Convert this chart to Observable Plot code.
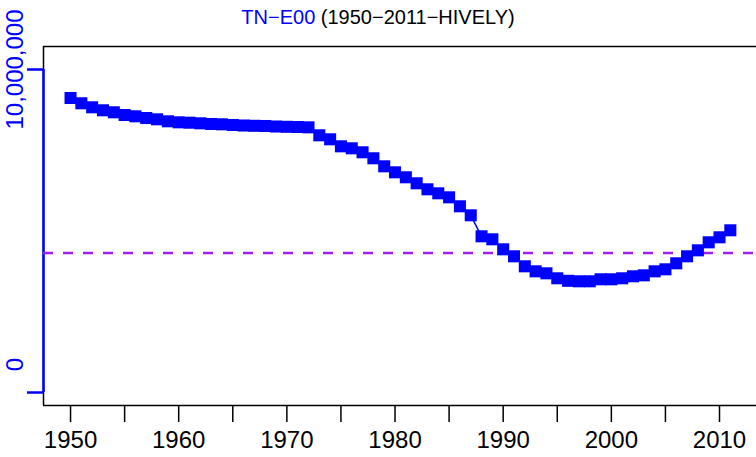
<!DOCTYPE html>
<html><head><meta charset="utf-8">
<script src="https://cdn.jsdelivr.net/npm/d3@7"></script>
<script src="https://cdn.jsdelivr.net/npm/@observablehq/plot@0.6"></script>
<style>
body{margin:0;background:#fff;}
#wrap{position:relative;width:756px;height:457px;}
#title{position:absolute;left:0;top:6px;width:756px;text-align:center;font:20px "Liberation Sans",Arial,sans-serif;color:#000;white-space:nowrap;}
</style></head><body>
<div id="wrap"><div id="title"><span style="color:#0000ff">TN−E00</span> (1950−2011−HIVELY)</div></div>
<script>
const years = [1950,1951,1952,1953,1954,1955,1956,1957,1958,1959,
  1960,1961,1962,1963,1964,1965,1966,1967,1968,1969,
  1970,1971,1972,1973,1974,1975,1976,1977,1978,1979,
  1980,1981,1982,1983,1984,1985,1986,1987,1988,1989,
  1990,1991,1992,1993,1994,1995,1996,1997,1998,1999,
  2000,2001,2002,2003,2004,2005,2006,2007,2008,2009,
  2010,2011];
const values = [9118000,8954000,8830000,8737000,8675000,8591000,8551000,8498000,8458000,8396000,
  8365000,8353000,8334000,8313000,8303000,8282000,8266000,8257000,8251000,8235000,
  8226000,8220000,8210000,7963000,7839000,7622000,7560000,7437000,7251000,7003000,
  6817000,6663000,6477000,6291000,6167000,6043000,5765000,5486000,4836000,4743000,
  4433000,4217000,3907000,3752000,3690000,3536000,3458000,3443000,3443000,3505000,
  3505000,3536000,3598000,3628000,3752000,3814000,4000000,4217000,4402000,4650000,
  4805000,5022000];
const threshold = 4319000;
const xTicks = [1950,1955,1960,1965,1970,1975,1980,1985,1990,1995,2000,2005,2010];
const xLabels = ["1950","","1960","","1970","","1980","","1990","","2000","","2010"];
const yTicks = [0, 10000000];
const yLabels = ["0", "10,000,000"];

const data = years.map((y, i) => ({year: y, value: values[i]}));
const xDomain = [1947.5, 2013.42];
const yDomain = [-402000, 10712000];
const blue = "#0000ff";
const font = "Liberation Sans, Arial, sans-serif";

const chart = Plot.plot({
  width: 756, height: 457,
  marginLeft: 43, marginRight: 0, marginTop: 46, marginBottom: 52,
  style: {fontFamily: font, background: "white", overflow: "visible"},
  x: {domain: xDomain, label: null},
  y: {domain: yDomain, label: null},
  marks: [
    Plot.ruleY([yDomain[1], yDomain[0]], {stroke: "black", strokeWidth: 1.5}),
    Plot.ruleX([xDomain[0]], {stroke: "black", strokeWidth: 1.5}),
    Plot.ruleX([xDomain[0]], {y1: yTicks[0], y2: yTicks[1], stroke: blue, strokeWidth: 2.5}),
    Plot.axisX({ticks: xTicks, tickSize: 17, tickPadding: 8, fontSize: 24, stroke: "black", strokeWidth: 1.5,
      tickFormat: d => xLabels[xTicks.indexOf(d)], label: null}),
    Plot.axisY({ticks: yTicks, tickSize: 16, tickFormat: () => "", color: blue, strokeWidth: 2.5, label: null}),
    Plot.axisY({ticks: [yTicks[1]], tickSize: 0, tickPadding: 21, tickRotate: -90, fontSize: 24, color: blue,
      tickFormat: () => yLabels[1], label: null}),
    Plot.axisY({ticks: [yTicks[0]], tickSize: 0, tickPadding: 21, tickRotate: -90, fontSize: 24, color: blue,
      tickFormat: () => yLabels[0], dy: -28, label: null}),
    Plot.ruleY([threshold], {stroke: "#a020f0", strokeWidth: 2.5, strokeDasharray: "10,10"}),
    Plot.line(data, {x: "year", y: "value", stroke: blue, strokeWidth: 1.5}),
    Plot.dot(data, {x: "year", y: "value", symbol: "square", r: 6.8, fill: blue, stroke: "none"})
  ]
});
document.getElementById("wrap").prepend(chart);
</script>
</body></html>
